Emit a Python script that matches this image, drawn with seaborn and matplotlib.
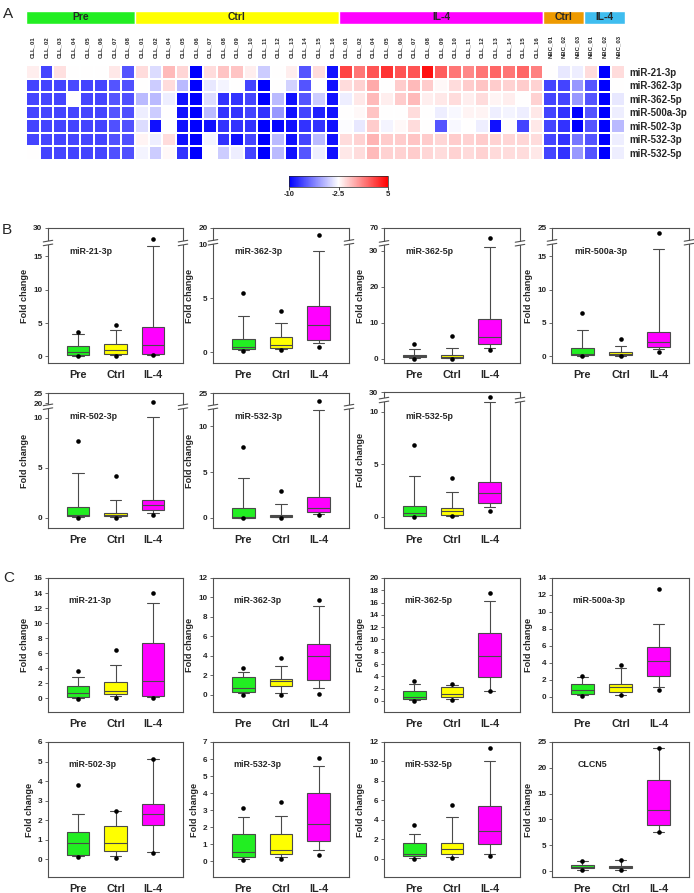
import numpy as np
import pandas as pd
import matplotlib
matplotlib.use("Agg")
import matplotlib.pyplot as plt
from matplotlib.patches import Rectangle
import seaborn as sns

# ---------------- heatmap data (panel A) ----------------
mirnas = ["miR-21-3p", "miR-362-3p", "miR-362-5p", "miR-500a-3p",
          "miR-502-3p", "miR-532-3p", "miR-532-5p"]

pre_cols = ["CLL_01", "CLL_02", "CLL_03", "CLL_04", "CLL_05", "CLL_06", "CLL_07", "CLL_08"]
ctrl_cols = ["CLL_01", "CLL_02", "CLL_04", "CLL_05", "CLL_06", "CLL_07", "CLL_08", "CLL_09",
             "CLL_10", "CLL_11", "CLL_12", "CLL_13", "CLL_14", "CLL_15", "CLL_16"]
il4_cols = list(ctrl_cols)
nbc_ctrl_cols = ["NBC_01", "NBC_02", "NBC_03"]
nbc_il4_cols = ["NBC_01", "NBC_02", "NBC_03"]
header_labels = ["Pre", "Ctrl", "IL-4", "Ctrl", "IL-4"]

heat_pre = [
    [-2.0, -8.0, -1.6, -2.5, -2.5, -2.5, -1.8, -7.5],
    [-8.0, -8.0, -8.0, -7.8, -8.0, -8.0, -7.5, -7.6],
    [-8.0, -8.0, -8.0, -2.5, -8.0, -8.0, -7.5, -7.6],
    [-8.0, -8.0, -8.0, -8.0, -8.0, -8.0, -7.5, -7.6],
    [-8.0, -8.0, -8.0, -8.0, -8.0, -8.0, -7.6, -7.6],
    [-8.0, -8.0, -8.0, -8.0, -8.0, -8.0, -7.6, -7.6],
    [-2.5, -8.0, -8.0, -8.0, -8.0, -8.0, -7.6, -7.6],
]
heat_ctrl = [
    [-1.5, -3.5, -0.5, -1.3, -10, -1.5, -0.8, -0.8, -2.0, -4.0, -2.5, -2.0, -7.5, -1.5, -9.5],
    [-2.5, -4.0, -1.5, -4.5, -10, -3.2, -2.8, -2.5, -8.0, -10, -2.5, -3.8, -7.5, -2.5, -9.5],
    [-4.5, -4.5, -3.0, -9.5, -10, -3.5, -8.5, -8.5, -8.0, -10, -4.5, -9.5, -7.5, -4.0, -9.5],
    [-3.0, -4.0, -2.5, -9.5, -10, -4.5, -8.5, -8.5, -8.0, -8.5, -5.5, -9.5, -8.0, -9.0, -9.5],
    [-3.5, -9.5, -2.5, -9.5, -10, -9.5, -8.5, -8.5, -8.5, -10, -9.8, -9.5, -8.5, -8.5, -9.5],
    [-2.2, -3.0, -1.5, -9.5, -10, -2.8, -8.5, -9.5, -8.0, -10, -4.5, -9.5, -8.0, -4.5, -9.5],
    [-2.8, -4.0, -2.3, -8.5, -10, -2.5, -4.0, -3.0, -8.0, -10, -4.5, -9.5, -7.5, -3.0, -9.5],
]
heat_il4 = [
    [3.0, 1.5, 2.5, 3.5, 2.5, 2.5, 4.5, 2.2, 1.5, 1.0, 1.5, 2.0, 1.5, 2.0, 1.2],
    [-1.5, -1.2, 0.0, -2.5, -1.0, -0.5, -1.0, -2.3, -1.5, -1.0, -0.8, -1.0, -1.2, -1.0, -1.2],
    [-3.0, -1.8, -0.5, -2.0, -1.0, -0.5, -2.0, -1.8, -1.5, -2.0, -1.5, -2.2, -2.0, -2.5, -1.2],
    [-2.5, -2.3, -0.8, -2.5, -2.5, -1.5, -2.5, -3.0, -2.7, -2.2, -2.2, -3.0, -2.8, -3.0, -1.8],
    [-2.6, -3.2, -1.0, -2.8, -2.3, -1.5, -2.5, -7.5, -2.7, -2.5, -3.0, -9.5, -2.4, -8.0, -1.8],
    [-1.5, -1.2, -0.3, -1.0, -1.0, -0.8, -1.0, -1.3, -1.0, -1.2, -1.0, -1.2, -1.3, -1.3, -1.5],
    [-1.8, -1.5, -0.5, -1.2, -1.2, -1.0, -1.3, -1.5, -1.2, -1.4, -1.2, -1.4, -1.5, -1.5, -1.8],
]
heat_nbc_ctrl = [
    [-2.5, -3.2, -3.0], [-8.0, -8.0, -5.5], [-8.0, -8.0, -5.5], [-8.0, -8.5, -10],
    [-8.0, -8.5, -10], [-8.0, -8.5, -6.5], [-8.0, -8.5, -5.5],
]
heat_nbc_il4 = [
    [-1.5, -10, -1.5], [-7.5, -10, -2.5], [-7.5, -10, -3.2], [-7.5, -10, -3.0],
    [-7.5, -10, -4.5], [-7.5, -10, -3.0], [-7.5, -10, -3.0],
]

# ---------------- box plot data (panels B and C) ----------------
# each entry: [low dot, low whisker, q1, median, q3, high whisker, high dot]
groups = ["Pre", "Ctrl", "IL-4"]

b_names = ["miR-21-3p", "miR-362-3p", "miR-362-5p", "miR-500a-3p",
           "miR-502-3p", "miR-532-3p", "miR-532-5p"]
b_pre = [
    [0.0, 0.05, 0.15, 0.6, 1.6, 3.3, 3.7],
    [0.1, 0.2, 0.27, 0.5, 1.2, 3.4, 5.5],
    [0.0, 0.1, 0.35, 0.65, 1.1, 2.8, 4.2],
    [0.05, 0.1, 0.2, 0.4, 1.25, 4.0, 6.5],
    [0.0, 0.05, 0.17, 0.33, 1.07, 4.43, 7.7],
    [0.0, 0.02, 0.04, 0.15, 1.03, 4.4, 7.7],
    [0.03, 0.08, 0.13, 0.38, 1.05, 3.85, 6.85],
]
b_ctrl = [
    [0.1, 0.2, 0.3, 1.0, 1.8, 4.0, 4.7],
    [0.25, 0.3, 0.37, 0.64, 1.43, 2.7, 3.8],
    [0.0, 0.1, 0.3, 0.55, 1.0, 2.9, 6.4],
    [0.05, 0.1, 0.2, 0.35, 0.6, 1.6, 2.6],
    [0.03, 0.1, 0.17, 0.27, 0.5, 1.83, 4.17],
    [0.0, 0.05, 0.11, 0.22, 0.33, 1.57, 2.97],
    [0.06, 0.12, 0.22, 0.6, 0.86, 2.39, 3.73],
]
b_il4 = [
    [0.15, 0.25, 0.4, 1.7, 4.35, 16.5, 23.0],
    [0.46, 0.9, 1.13, 2.56, 4.33, 9.36, 15.2],
    [2.3, 3.0, 4.0, 6.0, 11.1, 30.9, 45.9],
    [0.65, 1.05, 1.4, 2.1, 3.7, 16.05, 22.1],
    [0.3, 0.5, 0.77, 1.33, 1.83, 10.1, 20.5],
    [0.3, 0.4, 0.6, 1.03, 2.3, 11.76, 22.0],
    [0.6, 0.9, 1.37, 2.23, 3.34, 10.9, 23.9],
]

c_names = ["miR-21-3p", "miR-362-3p", "miR-362-5p", "miR-500a-3p",
           "miR-502-3p", "miR-532-3p", "miR-532-5p", "CLCN5"]
c_pre = [
    [-0.1, 0.0, 0.13, 0.66, 1.72, 2.9, 3.67],
    [0.0, 0.15, 0.3, 0.7, 1.8, 2.3, 2.7],
    [0.0, 0.1, 0.3, 0.6, 1.6, 2.7, 3.2],
    [0.1, 0.2, 0.35, 0.85, 1.55, 2.3, 2.5],
    [0.1, 0.15, 0.2, 0.8, 1.4, 2.32, 3.78],
    [0.08, 0.15, 0.25, 0.55, 1.6, 2.6, 3.15],
    [0.0, 0.1, 0.24, 0.51, 1.65, 2.54, 3.5],
    [0.2, 0.26, 0.58, 0.7, 1.1, 1.9, 1.94],
]
c_ctrl = [
    [0.0, 0.3, 0.53, 1.0, 2.25, 4.5, 6.5],
    [0.0, 0.2, 0.9, 1.35, 1.65, 2.9, 3.8],
    [0.2, 0.3, 0.7, 1.1, 2.2, 2.6, 2.8],
    [0.2, 0.25, 0.5, 1.1, 1.55, 3.4, 3.8],
    [0.07, 0.15, 0.4, 0.8, 1.7, 2.45, 2.48],
    [0.12, 0.27, 0.43, 0.68, 1.62, 2.67, 3.47],
    [0.07, 0.2, 0.51, 1.03, 1.61, 4.25, 5.56],
    [0.2, 0.26, 0.5, 0.7, 0.97, 2.1, 2.2],
]
c_il4 = [
    [0.0, 0.15, 0.3, 2.3, 7.43, 12.7, 14.05],
    [0.1, 0.7, 1.5, 3.95, 5.2, 9.1, 9.7],
    [1.6, 1.65, 3.9, 7.3, 11.0, 16.2, 17.5],
    [0.75, 1.15, 2.5, 4.25, 5.85, 8.6, 12.7],
    [0.3, 0.35, 1.75, 2.3, 2.8, 5.13, 5.15],
    [0.39, 0.68, 1.18, 2.2, 4.02, 5.6, 6.06],
    [0.27, 0.5, 1.47, 2.85, 5.39, 10.0, 11.4],
    [7.55, 7.6, 8.85, 11.75, 17.7, 23.85, 23.9],
]

# ---------------- style ----------------
sns.set_style("ticks")
plt.rcParams["font.family"] = ["Liberation Sans", "DejaVu Sans"]
plt.rcParams["font.weight"] = "bold"
plt.rcParams["axes.unicode_minus"] = False

W, H = 694, 893
fig = plt.figure(figsize=(W / 100, H / 100), dpi=100)


def px_axes(x0, y0, x1, y1):
    return fig.add_axes([x0 / W, 1 - y1 / H, (x1 - x0) / W, (y1 - y0) / H])


box_colors = {"Pre": "#22EE22", "Ctrl": "#FFFF00", "IL-4": "#FF00FF"}
header_colors = ["#22EE22", "#FFFF00", "#FF00FF", "#EE9A00", "#3FBDEF"]
spine_col = "#505050"

# ---------------- panel A ----------------
col_lists = [pre_cols, ctrl_cols, il4_cols, nbc_ctrl_cols, nbc_il4_cols]
heat = np.hstack([np.array(heat_pre), np.array(heat_ctrl), np.array(heat_il4),
                  np.array(heat_nbc_ctrl), np.array(heat_nbc_il4)])
all_cols = sum(col_lists, [])
heat_df = pd.DataFrame(heat, index=mirnas, columns=range(len(all_cols)))

ax_h = px_axes(26, 65, 625, 159.5)
cax = px_axes(289, 176, 388, 187)
sns.heatmap(heat_df, ax=ax_h, cmap="bwr", vmin=-10, vmax=5, linewidths=1.1,
            linecolor="white", cbar_ax=cax,
            cbar_kws={"orientation": "horizontal", "ticks": [-10, -2.5, 5]},
            xticklabels=all_cols, yticklabels=mirnas)
ax_h.xaxis.tick_top()
ax_h.set_xticklabels(all_cols, rotation=90, fontsize=4.3, fontweight="bold")
ax_h.yaxis.tick_right()
ax_h.set_yticklabels(mirnas, rotation=0, fontsize=7, fontweight="bold")
ax_h.tick_params(axis="both", length=0)
ax_h.tick_params(axis="x", pad=5)
ax_h.tick_params(axis="y", pad=3)
ax_h.set_xlabel("")
ax_h.set_ylabel("")
cax.tick_params(labelsize=5.5, length=2, width=0.6, pad=1)
cax.set_xticklabels(["-10", "-2.5", "5"], fontweight="bold")
for s in cax.spines.values():
    s.set_linewidth(0.5)

# group header bars
ax_top = px_axes(26, 11, 625, 24)
counts = [len(c) for c in col_lists]
starts = np.concatenate([[0], np.cumsum(counts)[:-1]])
ax_top.barh(0, counts, left=starts, height=1, color=header_colors,
            edgecolor="white", linewidth=1)
for lab, st, n in zip(header_labels, starts, counts):
    ax_top.text(st + n / 2, 0, lab, ha="center", va="center", fontsize=7.4,
                fontweight="bold")
ax_top.set_xlim(0, sum(counts))
ax_top.set_ylim(-0.5, 0.5)
ax_top.axis("off")


# ---------------- box plot helpers ----------------
def make_scale(b1, b2, k):
    def fwd(y):
        y = np.asarray(y, dtype=float)
        return np.minimum(y, b1) + np.maximum(y - b2, 0) * k

    def inv(u):
        u = np.asarray(u, dtype=float)
        return np.where(u <= b1, u, b2 + (u - b1) / k)

    return fwd, inv


def draw_box(ax, pre, ctrl, il4, name, title_xy):
    rows, dots = [], []
    for g, s in zip(groups, (pre, ctrl, il4)):
        for v in s[1:6]:
            rows.append((g, v))
        dots.append((g, s[0]))
        dots.append((g, s[6]))
    df = pd.DataFrame(rows, columns=["group", "value"])
    dot_df = pd.DataFrame(dots, columns=["group", "value"])
    sns.boxplot(data=df, x="group", y="value", hue="group", order=groups,
                hue_order=groups, palette=box_colors, saturation=1,
                whis=(0, 100), width=0.6, linecolor="#4a4a4a", linewidth=0.8,
                showfliers=False, legend=False, ax=ax)
    sns.stripplot(data=dot_df, x="group", y="value", order=groups, color="black",
                  size=3.3, jitter=False, ax=ax, zorder=5)
    ax.set_xlim(-0.8, 2.8)
    ax.set_xlabel("")
    ax.set_ylabel("Fold change", fontsize=6.6, fontweight="bold", labelpad=3)
    ax.tick_params(axis="x", length=0, labelsize=7.8, pad=5)
    ax.tick_params(axis="y", length=2.5, width=0.6, labelsize=5.9, pad=1.5,
                   color=spine_col)
    for lab in ax.get_xticklabels() + ax.get_yticklabels():
        lab.set_fontweight("bold")
    for s in ax.spines.values():
        s.set_visible(True)
        s.set_color(spine_col)
        s.set_linewidth(0.8)
    ax.text(title_xy[0], title_xy[1], name, transform=ax.transAxes,
            fontsize=6.4, fontweight="bold", va="center", ha="left")


def draw_break(ax, frac):
    for x0 in (0, 1):
        ax.add_patch(Rectangle((x0 - 0.04, frac - 0.013), 0.08, 0.026,
                               transform=ax.transAxes, facecolor="white",
                               edgecolor="none", clip_on=False, zorder=10))
        for dy in (-0.014, 0.014):
            ax.plot([x0 - 0.035, x0 + 0.035], [frac + dy - 0.006, frac + dy + 0.006],
                    transform=ax.transAxes, color=spine_col, lw=0.8,
                    clip_on=False, zorder=11)


col_x = [(48, 183), (213, 349), (384, 520), (552, 689)]

# panel B: broken y axes  (lo, b1, b2, top, lower px, upper px, ticks)
b_axes = [
    (-1.0, 17.0, 20.0, 30, 120, 15, [0, 5, 10, 15, 30]),
    (-1.0, 10.2, 10.2, 20, 120.7, 14.3, [0, 5, 10, 20]),
    (-1.2, 32.0, 32.0, 70, 119.7, 15.3, [0, 10, 20, 30, 70]),
    (-1.0, 17.1, 17.1, 25, 120.7, 14.3, [0, 5, 10, 15, 25]),
    (-1.0, 11.07, 18.2, 25, 120.7, 13.7, [0, 5, 10, 20, 25]),
    (-1.1, 12.1, 20.0, 25, 120.4, 14, [0, 5, 10, 25]),
    (-1.05, 11.1, 20.0, 30, 127.7, 7.7, [0, 5, 10, 30]),
]
b_rows = [(228, 363), (393, 528)]

for i, name in enumerate(b_names):
    r, c = divmod(i, 4)
    x0, x1 = col_x[c]
    y0, y1 = b_rows[r]
    if i == 6:
        y0 = 392.3
    ax = px_axes(x0, y0, x1, y1)
    draw_box(ax, b_pre[i], b_ctrl[i], b_il4[i], name, (0.16, 0.825))
    lo, b1, b2, top, hl, hu, ticks = b_axes[i]
    k = (b1 - lo) * hu / hl / (top - b2)
    fwd, inv = make_scale(b1, b2, k)
    ax.set_yscale("function", functions=(fwd, inv))
    ax.set_ylim(lo, top)
    ax.set_yticks(ticks)
    ax.set_yticklabels([str(t) for t in ticks], fontweight="bold")
    ax.yaxis.set_minor_locator(matplotlib.ticker.NullLocator())
    draw_break(ax, hl / (hl + hu))

# panel C: plain axes (lo, top, step)
c_axes = [(-1.8, 16, 2), (-1.8, 12, 2), (-1.8, 20, 2), (-1.8, 14, 2),
          (-0.92, 6, 1), (-0.92, 7, 1), (-1.9, 12, 2), (-1.16, 25, 5)]
c_rows = [(578, 712), (742, 877)]

for i, name in enumerate(c_names):
    r, c = divmod(i, 4)
    x0, x1 = col_x[c]
    y0, y1 = c_rows[r]
    ax = px_axes(x0, y0, x1, y1)
    tx = 0.185 if name == "CLCN5" else 0.15
    draw_box(ax, c_pre[i], c_ctrl[i], c_il4[i], name, (tx, 0.835))
    lo, top, step = c_axes[i]
    ax.set_ylim(lo, top)
    ticks = np.arange(0, top + step / 2, step)
    ax.set_yticks(ticks)
    ax.set_yticklabels([str(int(t)) for t in ticks], fontweight="bold")

# panel letters
fig.text(3 / W, 1 - 18 / H, "A", fontsize=11, fontweight="normal")
fig.text(2 / W, 1 - 234 / H, "B", fontsize=11, fontweight="normal")
fig.text(3 / W, 1 - 582 / H, "C", fontsize=11, fontweight="normal")

fig.savefig("out.png", dpi=100)
